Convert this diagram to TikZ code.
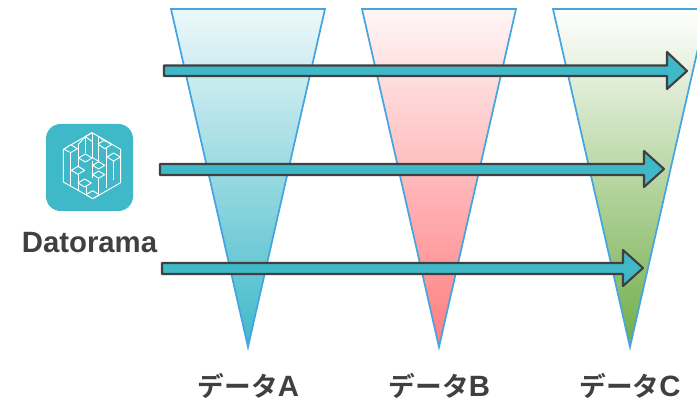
\documentclass[tikz,border=0pt]{standalone}
\usepackage{fontspec}
\setmainfont{Liberation Sans}
\newfontfamily\jpfont{Noto Sans CJK JP}[BoldFont={Noto Sans CJK JP Bold}]
\definecolor{teal}{HTML}{3FB9C8}
\definecolor{edge}{HTML}{45A5E0}
\definecolor{ink}{HTML}{404040}
\definecolor{topa}{HTML}{EDF8FA}
\definecolor{topb}{HTML}{FFF6F6}
\definecolor{botb}{HTML}{FF7C80}
\definecolor{botc}{HTML}{70AD47}
\newcommand{\jp}[1]{{\fontsize{20pt}{22pt}\selectfont\jpfont\bfseries #1}}
\tikzset{x=0.75pt,y=-0.75pt,
 wedge/.style={draw=edge,line width=1.3pt,line join=miter},
 bigarrow/.style={draw=ink,line width=1.6pt,fill=teal,line join=round},
 label/.style={text=ink,font=\fontsize{22pt}{24pt}\selectfont\bfseries,inner sep=0pt,anchor=center},
 logo/.style={draw=white,line width=0.7pt,line join=round},
 cell/.style={logo,fill=teal}}
\begin{document}
\begin{tikzpicture}
\useasboundingbox (0,0) rectangle (697,402);
\clip (0,0) rectangle (697,402);
\path[wedge,top color=topa,bottom color=teal] (171,9) -- (325,9) -- (248,347) -- cycle;
\path[wedge,top color=topb,bottom color=botb] (362,9) -- (516,9) -- (439,347) -- cycle;
\path[wedge,top color=white,bottom color=botc] (553,9) -- (707,9) -- (630,347) -- cycle;
\draw[bigarrow] (164,65.5) -- (667,65.5) -- (667,52) -- (687,71) -- (667,89) -- (667,76) -- (164,76) -- cycle;
\draw[bigarrow] (160,164) -- (644,164) -- (644,151) -- (664,169) -- (644,187) -- (644,175) -- (160,175) -- cycle;
\draw[bigarrow] (162,263) -- (623,263) -- (623,250) -- (643,268) -- (623,286) -- (623,274) -- (162,274) -- cycle;
\fill[teal,rounded corners=11pt] (46,124) rectangle (133,211);
\begin{scope}[shift={(58,128)},x=0.25pt,y=-0.25pt]
\draw[logo] (102,14) -- (188,64) -- (188,164) -- (105,212) -- (16,162) -- (16,64) -- cycle;
% verticals
\draw[logo] (38,62) -- (38,175) (60,50) -- (60,120) (60,136) -- (60,188)
 (102,14) -- (102,88) (82,26) -- (82,76) (122,26) -- (122,100) (145,42) -- (145,180)
 (165,98) -- (165,155) (102,100) -- (102,150) (122,152) -- (122,197) (105,212) -- (105,200)
 (85,175) -- (85,200);
% diamonds
\draw[cell] (18,64) -- (38,50) -- (58,62) -- (38,74) -- cycle;
\draw[cell] (120,48) -- (140,36) -- (160,50) -- (140,62) -- cycle;
\draw[cell] (62,90) -- (82,78) -- (102,90) -- (82,102) -- cycle;
\draw[cell] (147,87) -- (167,75) -- (187,87) -- (167,99) -- cycle;
\draw[cell] (40,127) -- (60,115) -- (80,127) -- (60,139) -- cycle;
\draw[cell] (104,112) -- (122,101) -- (140,112) -- (122,123) -- cycle;
\draw[cell] (104,140) -- (122,129) -- (140,140) -- (122,151) -- cycle;
\draw[cell] (60,165) -- (80,153) -- (100,165) -- (80,177) -- cycle;
\draw[cell] (84,200) -- (104,188) -- (124,200) -- (104,212) -- cycle;
\draw[logo] (60,50) -- (82,26) -- (102,40) (102,14) -- (82,26);
\draw[logo] (102,88) -- (122,100) (122,26) -- (145,42);
\end{scope}
\node[label] (title) at (89.5,243) {Datorama};
\node[label] (a) at (248.5,386) {\jp{データ}A};
\node[label] (b) at (439.5,386) {\jp{データ}B};
\node[label] (c) at (630,386) {\jp{データ}C};
\end{tikzpicture}
\end{document}
